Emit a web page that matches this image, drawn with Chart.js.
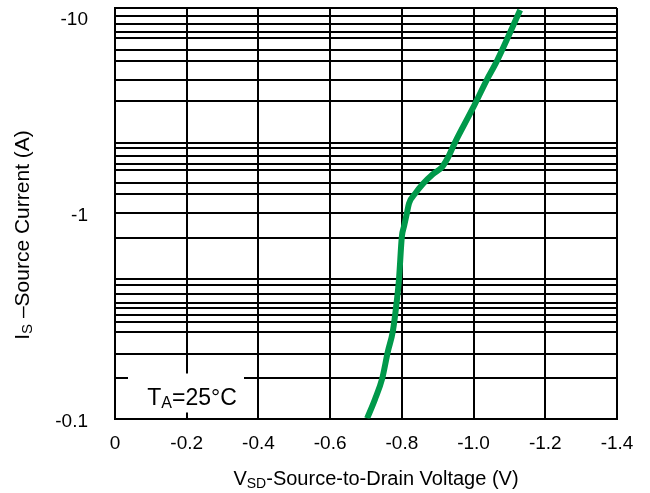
<!DOCTYPE html>
<html>
<head>
<meta charset="utf-8">
<script src="https://cdn.jsdelivr.net/npm/chart.js@4.4.1/dist/chart.umd.min.js"></script>
<style>
  html, body { margin: 0; padding: 0; background: #fff; }
  #wrap { width: 650px; height: 493px; }
</style>
</head>
<body>
<div id="wrap"><canvas id="vsdChart" width="650" height="493"></canvas></div>
<script>
/* Body diode forward characteristic, IS vs VSD at TA = 25°C */

// VSD (V) and |IS| (A) along the curve
const vsd = [-0.703, -0.725, -0.745, -0.761, -0.775, -0.786, -0.792, -0.800, -0.806, -0.814, -0.820,
             -0.837, -0.859, -0.887, -0.912, -0.929, -0.948, -0.998, -1.037, -1.065, -1.130];
const isMag = [0.10, 0.124, 0.156, 0.212, 0.267, 0.375, 0.477, 0.769, 0.862, 1.0, 1.117,
               1.246, 1.392, 1.554, 1.679, 1.874, 2.21, 3.25, 4.47, 5.51, 9.78];

// axis ticks
const xTicks = [0, -0.2, -0.4, -0.6, -0.8, -1.0, -1.2, -1.4];
const yLabels = [0.1, 1, 10];
const yGrid = [0.1, 0.158, 0.207, 0.264, 0.295, 0.320, 0.346, 0.367, 0.402, 0.445, 0.477, 0.760,
               1, 1.246, 1.407, 1.624, 1.735, 1.895, 2.07, 2.21, 3.51, 4.47, 5.51, 6.25, 7.11,
               7.68, 8.38, 9.16, 10];

const FONT = "'Liberation Sans', Arial, sans-serif";

// draws a run of text pieces (used for subscripts), centred on x
function drawRuns(ctx, runs, x, y) {
    let total = 0;
    runs.forEach(r => {
        ctx.font = r.size + "px " + FONT;
        r.w = ctx.measureText(r.text).width;
        total += r.w;
    });
    let cx = x - total / 2;
    ctx.textAlign = "left";
    ctx.textBaseline = "alphabetic";
    runs.forEach(r => {
        ctx.font = r.size + "px " + FONT;
        ctx.fillText(r.text, cx, y + (r.dy || 0));
        cx += r.w;
    });
}

const labelsPlugin = {
    id: "labels",
    beforeDatasetsDraw(chart) {
        const ctx = chart.ctx;
        const area = chart.chartArea;
        // TA box sitting on the grid
        ctx.save();
        ctx.fillStyle = "#fff";
        ctx.fillRect(area.left + 13, area.bottom - 45, 116, 39);
        ctx.fillStyle = "#000";
        drawRuns(ctx, [
            { text: "T", size: 23 },
            { text: "A", size: 16, dy: 3 },
            { text: "=25°C", size: 23 }
        ], area.left + 77, area.bottom - 14);
        ctx.restore();
    },
    afterDraw(chart) {
        const ctx = chart.ctx;
        const area = chart.chartArea;
        const ys = chart.scales.y;
        ctx.save();
        ctx.fillStyle = "#000";

        // y tick labels
        ctx.font = "19px " + FONT;
        ctx.textAlign = "right";
        ctx.textBaseline = "middle";
        yLabels.forEach(v => {
            const py = Math.max(ys.getPixelForValue(v) + 3, area.top + 12);
            ctx.fillText("-" + v, area.left - 27, py);
        });

        // x title
        drawRuns(ctx, [
            { text: "V", size: 20 },
            { text: "SD", size: 14, dy: 3 },
            { text: "-Source-to-Drain Voltage (V)", size: 20 }
        ], 376, 485);

        // y title
        ctx.translate(22, 235);
        ctx.rotate(-Math.PI / 2);
        drawRuns(ctx, [
            { text: "I", size: 21 },
            { text: "S", size: 15, dy: 3 },
            { text: " \u2013Source Current (A)", size: 21 }
        ], 0, 7);
        ctx.restore();
    }
};

new Chart(document.getElementById("vsdChart"), {
    type: "line",
    data: {
        datasets: [{
            data: vsd.map((v, i) => ({ x: v, y: isMag[i] })),
            borderColor: "#00994a",
            borderWidth: 6,
            pointRadius: 0,
            fill: false,
            cubicInterpolationMode: "monotone",
            borderCapStyle: "butt"
        }]
    },
    options: {
        responsive: false,
        animation: false,
        layout: { padding: { top: 8, right: 33, left: 0, bottom: 0 } },
        plugins: {
            legend: { display: false },
            tooltip: { enabled: false }
        },
        scales: {
            x: {
                type: "linear",
                min: -1.4,
                max: 0,
                reverse: true,
                afterBuildTicks: s => { s.ticks = xTicks.map(v => ({ value: v })); },
                afterFit: s => { s.height = 74.5; },
                grid: { color: "#000", lineWidth: 2, drawTicks: false },
                border: { color: "#000", width: 2 },
                ticks: {
                    padding: 14,
                    color: "#000",
                    font: { family: FONT, size: 19 },
                    callback: v => v === 0 ? "0" : v.toFixed(1)
                }
            },
            y: {
                type: "logarithmic",
                min: 0.1,
                max: 10,
                afterBuildTicks: s => { s.ticks = yGrid.map(v => ({ value: v })); },
                afterFit: s => { s.width = 115; },
                grid: { color: "#000", lineWidth: 2, drawTicks: false },
                border: { color: "#000", width: 2 },
                ticks: { display: false }
            }
        }
    },
    plugins: [labelsPlugin]
});
</script>
</body>
</html>
